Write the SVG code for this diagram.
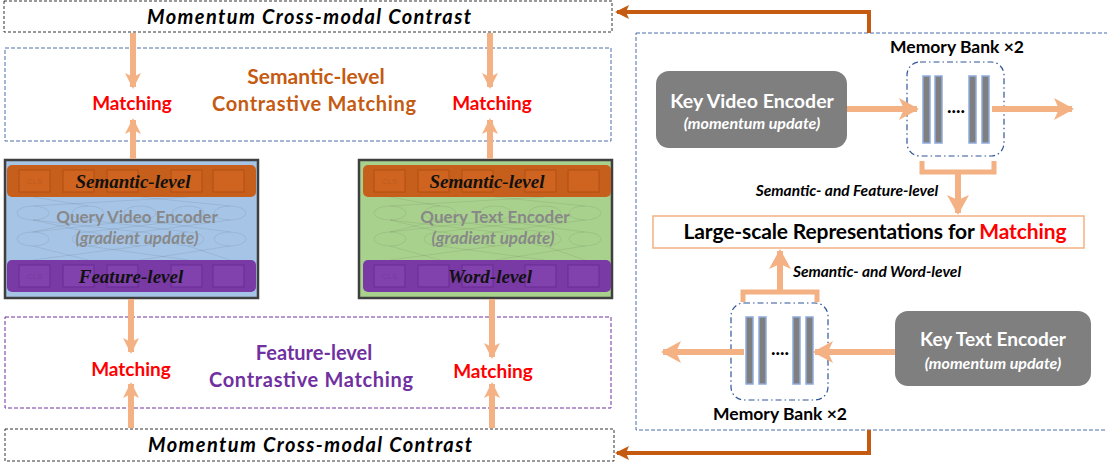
<svg xmlns="http://www.w3.org/2000/svg" width="1107" height="463" viewBox="0 0 1107 463">
<defs>
<style>
.cal{font-family:Lato,"Open Sans","Liberation Sans",sans-serif;font-weight:bold}
.bi{font-family:Lato,"Liberation Sans",sans-serif;font-weight:bold;font-style:italic}
.ser{font-family:"Liberation Serif","DejaVu Serif",serif;font-weight:bold;font-style:italic;font-size:19px;fill:#111}
.match{fill:#ff0000;font-size:19px}
.lo{stroke:#f4b183;fill:none}
.dk{stroke:#c55a11;fill:none;stroke-width:4}
.bar{fill:#7f7f7f;stroke:#8faadc;stroke-width:1.5}
.sqo{fill:#cf6420;stroke:#b24f10;stroke-width:1}
.sqp{fill:#8242ad;stroke:#6a2b95;stroke-width:1}
.net{fill:none;stroke:#000;stroke-opacity:0.07;stroke-width:1}
.enc{fill:#888;font-size:17px}
.cls{font-family:"Liberation Sans",sans-serif;font-size:8px;fill:#000;fill-opacity:0.12}
</style>
<marker id="ahL" markerUnits="userSpaceOnUse" viewBox="0 0 16 16" refX="14" refY="8" markerWidth="16" markerHeight="16" orient="auto">
<path d="M0,0 L16,8 L0,16 L4,8 Z" fill="#f4b183"/>
</marker>
<marker id="ahB" markerUnits="userSpaceOnUse" viewBox="0 0 20 22" refX="18" refY="11" markerWidth="20" markerHeight="22" orient="auto">
<path d="M0,0 L20,11 L0,22 L5,11 Z" fill="#f4b183"/>
</marker>
<marker id="ahD" markerUnits="userSpaceOnUse" viewBox="0 0 14 14" refX="12" refY="7" markerWidth="14" markerHeight="14" orient="auto">
<path d="M0,0 L14,7 L0,14 L3,7 Z" fill="#c55a11"/>
</marker>
</defs>
<rect width="1107" height="463" fill="#ffffff"/>

<g id="top-contrast">
<rect x="4" y="1" width="608" height="31" fill="#fff" stroke="#333" stroke-width="1" stroke-dasharray="3,2"/>
<text class="bi" x="309" y="24" font-size="20" text-anchor="middle" textLength="324">Momentum Cross-modal Contrast</text>
</g>

<g id="semantic-matching">
<rect x="5" y="48" width="606" height="93" fill="none" stroke="#4a6fa8" stroke-width="1" stroke-dasharray="4,2"/>
<text class="cal" x="316" y="84" font-size="21" fill="#c55a11" text-anchor="middle">Semantic-level</text>
<text class="cal" x="314" y="111" font-size="20" fill="#c55a11" text-anchor="middle" textLength="204">Contrastive Matching</text>
<text class="cal match" x="132" y="110" text-anchor="middle">Matching</text>
<text class="cal match" x="492" y="110" text-anchor="middle">Matching</text>
</g>

<g id="feature-matching">
<rect x="5" y="317" width="606" height="91" fill="none" stroke="#7030a0" stroke-width="1" stroke-dasharray="4,2"/>
<text class="cal" x="314" y="360" font-size="20" fill="#7030a0" text-anchor="middle">Feature-level</text>
<text class="cal" x="311" y="387" font-size="20" fill="#7030a0" text-anchor="middle" textLength="204">Contrastive Matching</text>
<text class="cal match" x="131" y="376" text-anchor="middle">Matching</text>
<text class="cal match" x="493" y="378" text-anchor="middle">Matching</text>
</g>

<g id="bottom-contrast">
<rect x="5" y="429" width="609" height="32" fill="#fff" stroke="#333" stroke-width="1" stroke-dasharray="3,2"/>
<text class="bi" x="310" y="452" font-size="20" text-anchor="middle" textLength="324">Momentum Cross-modal Contrast</text>
</g>

<g id="query-video-encoder">
<rect x="5" y="160" width="253" height="138" fill="#a6c4e6" stroke="#3f3f3f" stroke-width="2.5"/>
<g class="net">
<ellipse cx="33" cy="213" rx="16" ry="7"/><ellipse cx="88" cy="213" rx="16" ry="7"/><ellipse cx="140" cy="213" rx="16" ry="7"/><ellipse cx="188" cy="213" rx="16" ry="7"/><ellipse cx="230" cy="213" rx="16" ry="7"/>
<ellipse cx="33" cy="239" rx="16" ry="7"/><ellipse cx="88" cy="239" rx="16" ry="7"/><ellipse cx="140" cy="239" rx="16" ry="7"/><ellipse cx="188" cy="239" rx="16" ry="7"/><ellipse cx="230" cy="239" rx="16" ry="7"/>
<path d="M33,220 L88,232 M33,220 L140,232 M88,220 L33,232 M88,220 L188,232 M140,220 L33,232 M140,220 L230,232 M188,220 L88,232 M230,220 L140,232 M33,246 L88,260 M88,246 L188,260 M140,246 L33,260 M188,246 L230,260 M230,246 L140,260 M33,197 L88,206 M140,197 L230,206 M188,197 L33,206"/>
</g>
<rect x="7" y="165" width="249" height="32" rx="5" fill="#c65f1c"/>
<rect class="sqo" x="19" y="170" width="31" height="22"/><rect class="sqo" x="63" y="170" width="31" height="22"/><rect class="sqo" x="107" y="170" width="31" height="22"/><rect class="sqo" x="171" y="170" width="31" height="22"/><rect class="sqo" x="213" y="170" width="31" height="22"/>
<text class="cls" x="34.5" y="184" text-anchor="middle">CLS</text>
<text class="ser" x="133" y="188" text-anchor="middle">Semantic-level</text>
<text class="cal enc" x="137" y="223" text-anchor="middle">Query Video Encoder</text>
<text class="bi enc" x="137" y="244" text-anchor="middle" font-size="17.5">(gradient update)</text>
<rect x="7" y="260" width="249" height="32" rx="5" fill="#7a3aa6"/>
<rect class="sqp" x="19" y="265" width="31" height="22"/><rect class="sqp" x="63" y="265" width="31" height="22"/><rect class="sqp" x="107" y="265" width="31" height="22"/><rect class="sqp" x="171" y="265" width="31" height="22"/><rect class="sqp" x="213" y="265" width="31" height="22"/>
<text class="cls" x="34.5" y="279" text-anchor="middle">CLS</text>
<text class="ser" x="131" y="283" text-anchor="middle">Feature-level</text>
</g>

<g id="query-text-encoder">
<rect x="359" y="160" width="253" height="138" fill="#a9d18e" stroke="#3f3f3f" stroke-width="2.5"/>
<g class="net">
<ellipse cx="390" cy="213" rx="16" ry="7"/><ellipse cx="440" cy="213" rx="16" ry="7"/><ellipse cx="495" cy="213" rx="16" ry="7"/><ellipse cx="545" cy="213" rx="16" ry="7"/><ellipse cx="585" cy="213" rx="16" ry="7"/>
<ellipse cx="390" cy="239" rx="16" ry="7"/><ellipse cx="440" cy="239" rx="16" ry="7"/><ellipse cx="495" cy="239" rx="16" ry="7"/><ellipse cx="545" cy="239" rx="16" ry="7"/><ellipse cx="585" cy="239" rx="16" ry="7"/>
<path d="M390,220 L440,232 M390,220 L495,232 M440,220 L390,232 M440,220 L545,232 M495,220 L390,232 M495,220 L585,232 M545,220 L440,232 M585,220 L495,232 M390,246 L440,260 M440,246 L545,260 M495,246 L390,260 M545,246 L585,260 M585,246 L495,260 M390,197 L440,206 M495,197 L585,206 M545,197 L390,206"/>
</g>
<rect x="363" y="165" width="248" height="32" rx="5" fill="#c65f1c"/>
<rect class="sqo" x="374" y="170" width="31" height="22"/><rect class="sqo" x="418" y="170" width="31" height="22"/><rect class="sqo" x="462" y="170" width="31" height="22"/><rect class="sqo" x="525" y="170" width="31" height="22"/><rect class="sqo" x="568" y="170" width="31" height="22"/>
<text class="cls" x="389.5" y="184" text-anchor="middle">CLS</text>
<text class="ser" x="487" y="188" text-anchor="middle">Semantic-level</text>
<text class="cal enc" x="495" y="223" text-anchor="middle">Query Text Encoder</text>
<text class="bi enc" x="493" y="244" text-anchor="middle" font-size="17.5">(gradient update)</text>
<rect x="363" y="260" width="248" height="32" rx="5" fill="#7a3aa6"/>
<rect class="sqp" x="374" y="265" width="31" height="22"/><rect class="sqp" x="418" y="265" width="31" height="22"/><rect class="sqp" x="462" y="265" width="31" height="22"/><rect class="sqp" x="525" y="265" width="31" height="22"/><rect class="sqp" x="568" y="265" width="31" height="22"/>
<text class="cls" x="389.5" y="279" text-anchor="middle">CLS</text>
<text class="ser" x="490" y="283" text-anchor="middle">Word-level</text>
</g>

<g id="key-panel">
<rect x="636" y="33" width="480" height="397" fill="none" stroke="#4a6fa8" stroke-width="1" stroke-dasharray="4,2"/>
</g>

<g id="key-video-encoder">
<rect x="656" y="71" width="191" height="77" rx="13" fill="#7f7f7f"/>
<text class="cal" x="752" y="108" font-size="19.5" fill="#fff" text-anchor="middle">Key Video Encoder</text>
<text class="bi" x="752" y="129" font-size="16" fill="#fff" text-anchor="middle">(momentum update)</text>
</g>

<g id="video-memory-bank">
<rect x="907" y="62" width="97" height="94" rx="13" fill="none" stroke="#2f5597" stroke-width="1.2" stroke-dasharray="6,3,1.5,3"/>
<rect class="bar" x="923" y="76" width="7" height="67"/><rect class="bar" x="935" y="76" width="7" height="67"/><rect class="bar" x="969" y="76" width="7" height="67"/><rect class="bar" x="982" y="76" width="7" height="67"/>
<text class="cal" x="956" y="113" font-size="19" fill="#000" text-anchor="middle">....</text>
<text class="cal" x="957" y="53" font-size="17.5" fill="#000" text-anchor="middle">Memory Bank ×2</text>
</g>

<g id="representations">
<rect x="653" y="216" width="431" height="32" fill="#fff" stroke="#f4b183" stroke-width="1.5"/>
<text class="cal" x="875" y="239" font-size="21" text-anchor="middle" textLength="383"><tspan fill="#000">Large-scale Representations for </tspan><tspan fill="#ff0000">Matching</tspan></text>
</g>

<g id="text-memory-bank">
<rect x="731" y="303" width="97" height="97" rx="13" fill="none" stroke="#2f5597" stroke-width="1.2" stroke-dasharray="6,3,1.5,3"/>
<rect class="bar" x="746" y="317" width="7" height="67"/><rect class="bar" x="759" y="317" width="7" height="67"/><rect class="bar" x="793" y="317" width="7" height="67"/><rect class="bar" x="806" y="317" width="7" height="67"/>
<text class="cal" x="780" y="355" font-size="19" fill="#000" text-anchor="middle">....</text>
<text class="cal" x="780" y="420" font-size="17.5" fill="#000" text-anchor="middle">Memory Bank ×2</text>
</g>

<g id="key-text-encoder">
<rect x="895" y="311" width="196" height="75" rx="13" fill="#7f7f7f"/>
<text class="cal" x="993" y="346" font-size="19" fill="#fff" text-anchor="middle">Key Text Encoder</text>
<text class="bi" x="993" y="369" font-size="16" fill="#fff" text-anchor="middle">(momentum update)</text>
</g>

<g id="connectors">
<line class="lo" x1="133" y1="33" x2="133" y2="87" stroke-width="6" marker-end="url(#ahL)"/>
<line class="lo" x1="133" y1="159" x2="133" y2="120" stroke-width="6" marker-end="url(#ahL)"/>
<line class="lo" x1="490" y1="33" x2="490" y2="87" stroke-width="6" marker-end="url(#ahL)"/>
<line class="lo" x1="490" y1="159" x2="490" y2="120" stroke-width="6" marker-end="url(#ahL)"/>
<line class="lo" x1="131" y1="299" x2="131" y2="352" stroke-width="6" marker-end="url(#ahL)"/>
<line class="lo" x1="131" y1="428" x2="131" y2="384" stroke-width="6" marker-end="url(#ahL)"/>
<line class="lo" x1="492" y1="299" x2="492" y2="357" stroke-width="6" marker-end="url(#ahL)"/>
<line class="lo" x1="492" y1="428" x2="492" y2="384" stroke-width="6" marker-end="url(#ahL)"/>
<line class="lo" x1="847" y1="109" x2="917" y2="109" stroke-width="6" marker-end="url(#ahB)"/>
<line class="lo" x1="992" y1="109" x2="1072" y2="109" stroke-width="6" marker-end="url(#ahB)"/>
<path class="lo" d="M922,161 V172 H994 V161" stroke-width="5"/>
<line class="lo" x1="958" y1="172" x2="958" y2="213" stroke-width="6" marker-end="url(#ahB)"/>
<text class="bi" x="847" y="196" font-size="15.5" fill="#000" text-anchor="middle">Semantic- and Feature-level</text>
<line class="lo" x1="895" y1="352" x2="815" y2="352" stroke-width="6" marker-end="url(#ahB)"/>
<line class="lo" x1="744" y1="352" x2="663" y2="352" stroke-width="6" marker-end="url(#ahB)"/>
<path class="lo" d="M743,302 V292 H817 V302" stroke-width="5"/>
<line class="lo" x1="780" y1="292" x2="780" y2="251" stroke-width="6" marker-end="url(#ahB)"/>
<text class="bi" x="877" y="277" font-size="15.5" fill="#000" text-anchor="middle">Semantic- and Word-level</text>
<path class="dk" d="M869,33 V12 H617" marker-end="url(#ahD)"/>
<path class="dk" d="M869,430 V453 H617" marker-end="url(#ahD)"/>
</g>
</svg>
